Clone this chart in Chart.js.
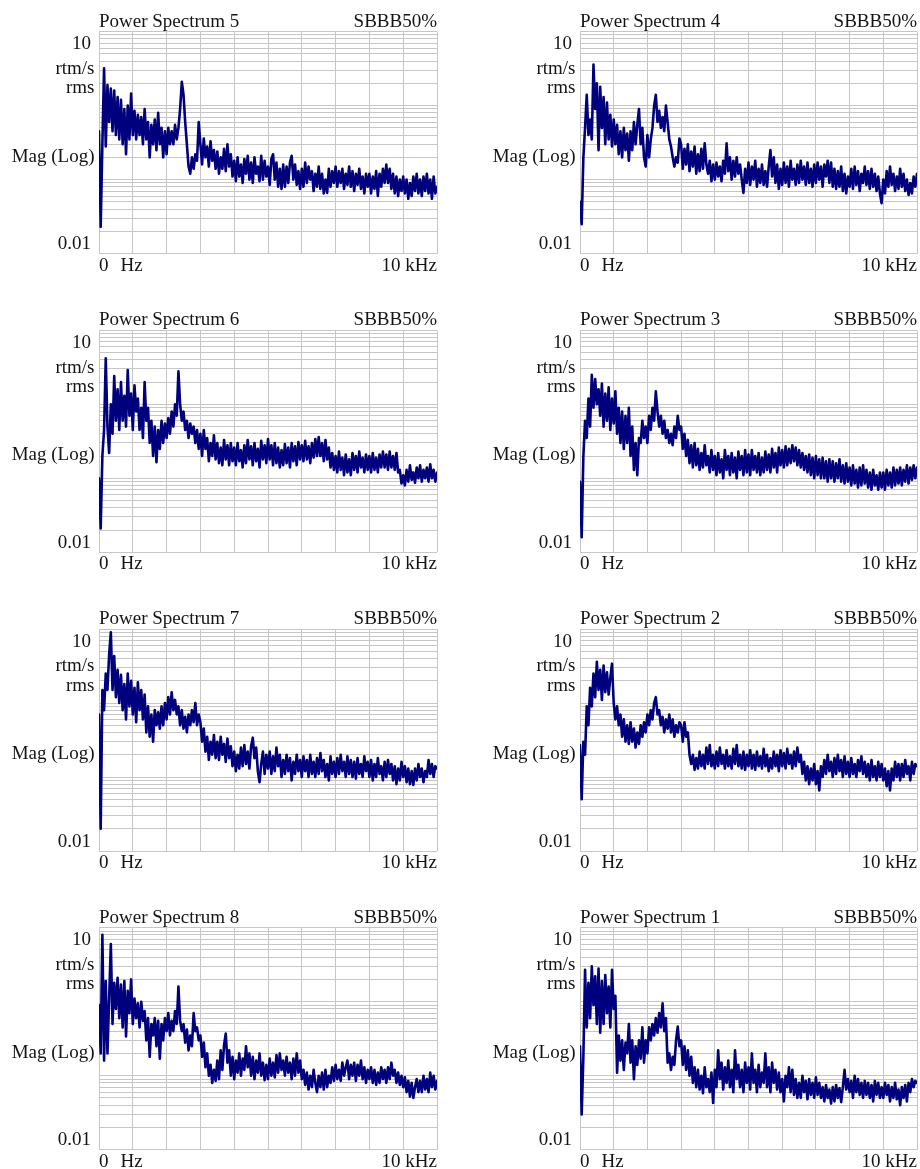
<!DOCTYPE html>
<html>
<head>
<meta charset="utf-8">
<script src="https://cdn.jsdelivr.net/npm/chart.js@4.4.1/dist/chart.umd.min.js"></script>
<style>
  html, body { margin: 0; padding: 0; background: #ffffff; overflow: hidden; }
  #sheet { position: relative; width: 920px; height: 1169px; overflow: hidden; background: #ffffff; }
  #sheet canvas { position: absolute; }
</style>
</head>
<body>
<div id="sheet"></div>
<script>
// Spectrum bins are 50 Hz apart, 0 Hz .. 10 kHz (201 bins per trace).
const binHz = 50;

// Frequency grid (Hz) and magnitude grid (rtm/s rms, log decades).
const freqTicks = [0, 1000, 2000, 3000, 4000, 5000, 6000, 7000, 8000, 9000, 10000];
const magDecades = [0.01, 0.1, 1];
const magSteps = [1, 2, 3, 4, 5, 6, 7, 8, 9];
const magTop = 10;

// Axis texts
const yAxisTexts = ['10', 'rtm/s', 'rms', 'Mag (Log)', '0.01'];
const xStartText = ['0', 'Hz'];
const xEndText = '10 kHz';
const windowText = 'SBBB50%';

// Magnitudes (rtm/s rms) per spectrum
const spectrum5 = [0.45,0.023,0.3,3.2,0.28,1.9,0.6,1.7,0.45,1.6,
 0.4,1.3,0.35,1.2,0.3,0.9,0.22,1.0,0.35,1.45,
 0.4,0.85,0.35,0.75,0.4,0.7,0.3,0.9,0.35,0.6,
 0.2,0.55,0.3,0.65,0.25,0.8,0.3,0.5,0.2,0.45,
 0.22,0.5,0.3,0.45,0.3,0.55,0.35,0.5,0.9,2.1,
 1.4,0.6,0.3,0.15,0.12,0.2,0.14,0.22,0.18,0.6,
 0.3,0.16,0.36,0.2,0.28,0.15,0.33,0.18,0.25,0.14,
 0.24,0.12,0.2,0.14,0.26,0.13,0.3,0.15,0.22,0.11,
 0.18,0.095,0.2,0.11,0.16,0.09,0.19,0.12,0.21,0.1,
 0.17,0.09,0.2,0.12,0.15,0.095,0.21,0.1,0.18,0.11,
 0.15,0.085,0.19,0.22,0.1,0.17,0.08,0.14,0.075,0.16,
 0.08,0.15,0.09,0.17,0.21,0.1,0.16,0.085,0.13,0.075,
 0.14,0.08,0.17,0.09,0.15,0.1,0.13,0.07,0.12,0.08,
 0.15,0.075,0.12,0.065,0.1,0.066,0.14,0.08,0.13,0.09,
 0.15,0.08,0.13,0.09,0.14,0.075,0.12,0.085,0.15,0.08,
 0.13,0.07,0.12,0.085,0.14,0.075,0.11,0.065,0.12,0.08,
 0.12,0.065,0.11,0.075,0.13,0.06,0.12,0.08,0.14,0.09,
 0.16,0.09,0.14,0.075,0.12,0.065,0.11,0.06,0.1,0.07,
 0.11,0.065,0.1,0.055,0.09,0.06,0.11,0.07,0.12,0.065,
 0.1,0.06,0.11,0.07,0.12,0.065,0.1,0.055,0.11,0.065,
 0.08];

const spectrum4 = [0.05,0.025,0.2,0.5,1.4,0.4,0.65,0.35,3.6,0.9,
 2.0,0.25,1.8,0.5,1.3,0.3,1.1,0.35,0.75,0.28,
 0.65,0.3,0.55,0.22,0.45,0.2,0.5,0.25,0.42,0.18,
 0.45,0.25,0.6,0.3,0.55,0.9,0.3,0.5,0.2,0.15,
 0.4,0.2,0.35,0.5,1.0,1.4,0.6,0.85,0.5,0.7,
 0.45,1.0,0.6,0.35,0.28,0.2,0.15,0.2,0.17,0.36,
 0.3,0.14,0.26,0.16,0.3,0.13,0.24,0.15,0.28,0.12,
 0.22,0.13,0.26,0.14,0.31,0.16,0.12,0.18,0.095,0.16,
 0.1,0.17,0.11,0.15,0.095,0.18,0.12,0.31,0.13,0.2,
 0.1,0.18,0.11,0.2,0.12,0.16,0.1,0.066,0.14,0.09,
 0.17,0.085,0.15,0.1,0.18,0.08,0.14,0.09,0.16,0.085,
 0.13,0.08,0.15,0.25,0.11,0.2,0.09,0.16,0.075,0.14,
 0.085,0.17,0.09,0.15,0.08,0.18,0.1,0.14,0.085,0.16,
 0.09,0.18,0.1,0.15,0.085,0.17,0.09,0.14,0.08,0.16,
 0.09,0.17,0.1,0.15,0.08,0.16,0.11,0.18,0.09,0.17,
 0.08,0.14,0.075,0.13,0.08,0.15,0.07,0.12,0.065,0.11,
 0.08,0.14,0.075,0.15,0.085,0.13,0.07,0.12,0.09,0.15,
 0.085,0.13,0.075,0.14,0.08,0.12,0.07,0.11,0.065,0.048,
 0.1,0.065,0.13,0.08,0.15,0.085,0.12,0.07,0.11,0.075,
 0.14,0.08,0.12,0.07,0.1,0.062,0.09,0.065,0.11,0.08,
 0.12];

const spectrum6 = [0.1,0.021,0.2,0.45,4.2,0.5,0.22,1.0,0.4,2.4,
 0.6,1.6,0.45,2.0,0.6,1.3,0.5,2.9,0.7,1.4,
 0.45,1.8,0.8,1.2,0.45,0.9,0.35,2.0,0.6,0.9,
 0.3,0.6,0.2,0.5,0.165,0.45,0.25,0.6,0.3,0.55,
 0.35,0.65,0.4,0.8,0.5,1.0,0.7,2.8,1.0,0.6,
 0.8,0.45,0.6,0.35,0.55,0.4,0.5,0.3,0.45,0.25,
 0.4,0.2,0.45,0.25,0.35,0.17,0.3,0.2,0.38,0.18,
 0.3,0.16,0.26,0.15,0.33,0.18,0.28,0.15,0.3,0.17,
 0.26,0.15,0.3,0.17,0.24,0.14,0.28,0.16,0.33,0.18,
 0.27,0.15,0.3,0.17,0.25,0.14,0.32,0.18,0.28,0.16,
 0.34,0.18,0.28,0.15,0.3,0.16,0.26,0.14,0.24,0.15,
 0.29,0.16,0.26,0.14,0.3,0.17,0.27,0.15,0.31,0.18,
 0.28,0.17,0.32,0.18,0.27,0.16,0.3,0.19,0.34,0.2,
 0.36,0.2,0.3,0.17,0.33,0.18,0.26,0.14,0.22,0.13,
 0.2,0.12,0.23,0.13,0.19,0.11,0.21,0.12,0.18,0.11,
 0.22,0.13,0.2,0.12,0.23,0.14,0.19,0.12,0.21,0.13,
 0.2,0.12,0.22,0.13,0.19,0.12,0.21,0.14,0.23,0.14,
 0.21,0.13,0.23,0.14,0.2,0.13,0.22,0.12,0.13,0.085,
 0.11,0.08,0.13,0.09,0.15,0.095,0.12,0.087,0.14,0.1,
 0.15,0.09,0.13,0.1,0.14,0.09,0.155,0.1,0.13,0.09,
 0.12];

const spectrum3 = [0.09,0.016,0.2,0.6,0.35,1.2,0.5,2.5,0.9,2.2,
 1.0,1.6,0.7,1.9,0.5,1.4,0.6,1.7,0.45,1.2,
 0.55,1.5,0.4,0.9,0.3,0.8,0.25,0.7,0.3,0.9,
 0.2,0.5,0.13,0.3,0.11,0.35,0.3,0.6,0.35,0.5,
 0.3,0.7,0.45,0.9,0.6,1.5,0.8,0.5,0.7,0.4,
 0.6,0.35,0.45,0.3,0.4,0.28,0.5,0.35,0.7,0.45,
 0.5,0.25,0.4,0.2,0.33,0.16,0.28,0.14,0.3,0.15,
 0.25,0.13,0.22,0.14,0.28,0.15,0.2,0.12,0.24,0.13,
 0.2,0.11,0.22,0.12,0.18,0.1,0.24,0.13,0.2,0.11,
 0.22,0.12,0.19,0.1,0.23,0.13,0.2,0.11,0.24,0.12,
 0.21,0.11,0.24,0.13,0.2,0.12,0.22,0.11,0.19,0.12,
 0.23,0.13,0.21,0.12,0.25,0.14,0.22,0.12,0.26,0.15,
 0.24,0.14,0.27,0.15,0.25,0.16,0.28,0.17,0.26,0.15,
 0.24,0.14,0.22,0.13,0.2,0.12,0.21,0.11,0.19,0.1,
 0.2,0.11,0.18,0.1,0.19,0.1,0.17,0.09,0.18,0.1,
 0.17,0.09,0.16,0.1,0.18,0.09,0.15,0.085,0.16,0.09,
 0.14,0.08,0.15,0.085,0.13,0.075,0.14,0.08,0.15,0.085,
 0.13,0.075,0.12,0.07,0.13,0.08,0.11,0.07,0.12,0.075,
 0.12,0.07,0.13,0.08,0.12,0.075,0.14,0.08,0.13,0.085,
 0.14,0.08,0.13,0.09,0.15,0.085,0.14,0.095,0.15,0.1,
 0.14];

const spectrum7 = [0.7,0.02,1.5,0.8,2.5,1.5,4.5,9.0,1.5,4.3,
 1.2,2.8,1.0,2.4,0.8,1.8,0.6,2.5,0.9,2.0,
 0.7,1.6,0.55,1.9,0.8,1.5,0.6,1.3,0.4,0.9,
 0.35,0.7,0.3,0.8,0.5,0.75,0.45,0.9,0.5,1.0,
 0.6,1.2,0.7,1.4,0.8,1.1,0.7,0.9,0.5,0.8,
 0.45,0.65,0.4,0.7,0.5,0.8,0.55,1.0,0.5,0.7,
 0.55,0.3,0.45,0.22,0.35,0.17,0.3,0.2,0.37,0.18,
 0.3,0.17,0.35,0.2,0.28,0.16,0.33,0.18,0.26,0.14,
 0.22,0.12,0.2,0.13,0.25,0.14,0.27,0.15,0.22,0.13,
 0.26,0.34,0.18,0.25,0.12,0.085,0.15,0.22,0.11,0.2,
 0.13,0.22,0.11,0.19,0.12,0.25,0.14,0.2,0.1,0.17,
 0.11,0.2,0.12,0.18,0.09,0.16,0.11,0.2,0.12,0.17,
 0.1,0.19,0.12,0.17,0.1,0.2,0.11,0.16,0.1,0.18,
 0.11,0.21,0.12,0.17,0.1,0.15,0.09,0.19,0.11,0.16,
 0.1,0.18,0.11,0.2,0.12,0.16,0.1,0.19,0.11,0.17,
 0.1,0.16,0.095,0.18,0.11,0.15,0.1,0.19,0.12,0.16,
 0.1,0.17,0.09,0.15,0.1,0.18,0.11,0.14,0.09,0.16,
 0.1,0.17,0.11,0.15,0.09,0.14,0.08,0.13,0.09,0.16,
 0.1,0.14,0.085,0.13,0.08,0.12,0.078,0.13,0.09,0.15,
 0.1,0.13,0.085,0.12,0.1,0.17,0.11,0.15,0.1,0.14,
 0.13];

const spectrum2 = [0.27,0.05,0.3,0.2,0.9,0.5,1.6,0.9,2.5,1.2,
 3.6,1.5,2.8,1.1,3.2,1.4,2.6,1.3,2.2,3.4,
 1.0,0.6,0.9,0.5,0.7,0.35,0.6,0.3,0.5,0.28,
 0.55,0.3,0.45,0.25,0.4,0.28,0.5,0.35,0.55,0.4,
 0.7,0.5,0.8,0.6,1.0,1.2,0.7,0.8,0.5,0.65,
 0.4,0.6,0.45,0.7,0.4,0.6,0.35,0.5,0.4,0.55,
 0.5,0.3,0.55,0.35,0.4,0.2,0.15,0.2,0.125,0.18,
 0.13,0.22,0.14,0.2,0.13,0.25,0.15,0.27,0.14,0.2,
 0.13,0.22,0.14,0.25,0.15,0.2,0.13,0.23,0.14,0.19,
 0.13,0.24,0.15,0.27,0.14,0.2,0.13,0.22,0.125,0.2,
 0.14,0.23,0.13,0.2,0.125,0.22,0.14,0.19,0.13,0.24,
 0.14,0.2,0.12,0.18,0.13,0.22,0.14,0.2,0.12,0.23,
 0.14,0.21,0.13,0.24,0.15,0.2,0.13,0.22,0.14,0.25,
 0.16,0.2,0.11,0.16,0.09,0.14,0.08,0.13,0.09,0.15,
 0.08,0.12,0.066,0.14,0.1,0.17,0.11,0.2,0.12,0.16,
 0.1,0.18,0.11,0.2,0.12,0.17,0.1,0.19,0.11,0.16,
 0.1,0.18,0.11,0.15,0.1,0.17,0.12,0.19,0.11,0.16,
 0.1,0.15,0.09,0.17,0.1,0.14,0.09,0.16,0.1,0.15,
 0.09,0.13,0.075,0.12,0.066,0.13,0.09,0.16,0.1,0.15,
 0.09,0.15,0.1,0.17,0.11,0.14,0.09,0.16,0.11,0.15,
 0.14];

const spectrum8 = [0.9,0.2,8.0,0.16,1.9,0.2,1.1,6.0,0.5,1.8,
 0.8,2.1,0.6,1.7,0.45,1.9,0.34,1.4,0.7,2.0,
 0.5,1.1,0.6,0.95,0.45,1.0,0.55,0.75,0.3,0.6,
 0.18,0.5,0.35,0.6,0.25,0.55,0.17,0.5,0.3,0.6,
 0.4,0.7,0.35,0.55,0.4,0.75,0.5,1.6,0.55,0.4,
 0.5,0.28,0.42,0.22,0.35,0.25,0.7,0.4,0.45,0.3,
 0.35,0.18,0.28,0.13,0.2,0.1,0.14,0.08,0.12,0.085,
 0.16,0.09,0.22,0.12,0.26,0.37,0.15,0.22,0.1,0.18,
 0.09,0.16,0.11,0.2,0.1,0.17,0.12,0.25,0.13,0.2,
 0.1,0.18,0.09,0.16,0.11,0.2,0.1,0.15,0.087,0.14,
 0.09,0.17,0.1,0.15,0.095,0.19,0.11,0.2,0.12,0.16,
 0.1,0.18,0.11,0.15,0.09,0.17,0.1,0.2,0.11,0.16,
 0.09,0.12,0.075,0.11,0.065,0.1,0.07,0.12,0.08,0.06,
 0.1,0.07,0.11,0.065,0.12,0.07,0.1,0.08,0.13,0.085,
 0.14,0.09,0.12,0.085,0.15,0.1,0.13,0.16,0.09,0.14,
 0.1,0.15,0.085,0.14,0.1,0.16,0.09,0.13,0.08,0.12,
 0.09,0.13,0.08,0.12,0.075,0.11,0.08,0.13,0.09,0.12,
 0.08,0.13,0.09,0.15,0.1,0.12,0.08,0.11,0.075,0.1,
 0.07,0.095,0.06,0.085,0.052,0.08,0.05,0.07,0.09,0.06,
 0.085,0.06,0.1,0.065,0.09,0.06,0.11,0.07,0.1,0.065,
 0.085];

const spectrum1 = [0.25,0.03,0.18,2.7,0.45,1.8,0.6,3.0,0.9,2.2,
 0.5,2.8,0.38,1.9,0.5,2.3,0.7,1.6,0.45,2.7,
 0.8,1.2,0.11,0.35,0.16,0.3,0.12,0.28,0.2,0.5,
 0.15,0.3,0.09,0.25,0.14,0.3,0.17,0.45,0.15,0.3,
 0.2,0.45,0.3,0.5,0.35,0.6,0.38,0.7,0.45,0.95,
 0.4,0.6,0.15,0.2,0.12,0.18,0.14,0.3,0.46,0.25,
 0.3,0.14,0.25,0.12,0.22,0.1,0.18,0.08,0.13,0.07,
 0.12,0.065,0.1,0.058,0.13,0.07,0.09,0.06,0.11,0.043,
 0.12,0.07,0.22,0.09,0.15,0.065,0.13,0.08,0.16,0.07,
 0.12,0.06,0.22,0.09,0.14,0.07,0.12,0.06,0.15,0.08,
 0.13,0.065,0.2,0.08,0.12,0.06,0.14,0.07,0.11,0.08,
 0.2,0.07,0.13,0.06,0.15,0.08,0.12,0.065,0.11,0.06,
 0.09,0.045,0.1,0.07,0.13,0.06,0.12,0.055,0.09,0.05,
 0.08,0.05,0.1,0.06,0.085,0.048,0.09,0.055,0.08,0.05,
 0.095,0.055,0.08,0.05,0.07,0.045,0.075,0.05,0.065,0.042,
 0.07,0.045,0.075,0.05,0.068,0.044,0.07,0.12,0.065,0.09,
 0.06,0.085,0.05,0.1,0.06,0.09,0.055,0.08,0.05,0.085,
 0.055,0.08,0.05,0.075,0.045,0.085,0.055,0.08,0.05,0.07,
 0.05,0.08,0.055,0.075,0.045,0.07,0.05,0.08,0.048,0.065,
 0.04,0.07,0.05,0.075,0.045,0.08,0.06,0.09,0.07,0.085,
 0.08];

// Sheet layout: 4 rows x 2 columns, numbered as in the acquisition report.
const panelNumbers = [5, 4, 6, 3, 7, 2, 8, 1];
const spectra = { 1: spectrum1, 2: spectrum2, 3: spectrum3, 4: spectrum4,
                  5: spectrum5, 6: spectrum6, 7: spectrum7, 8: spectrum8 };

const colPlotLeft = [99, 580];
const colPlotRight = [437, 917];
const rowPitch = 298.7;
const firstPlotTop = 31.6;
const plotHeight = 222;
const canvasW = 460, canvasH = 299;

const FONT = '19px "Liberation Serif", "Times New Roman", serif';
const INK = '#141414';
const TRACE = '#00007e';
const GRID = '#c6c6c6';

const magGrid = [];
magDecades.forEach(d => magSteps.forEach(s => magGrid.push(+(d * s).toPrecision(3))));
magGrid.push(magTop);

// Texts around each plot area: title, window, magnitude axis and frequency axis.
const panelText = {
  id: 'panelText',
  afterDraw(chart, args, opts) {
    const ctx = chart.ctx;
    const a = chart.chartArea;
    ctx.save();
    ctx.font = FONT;
    ctx.fillStyle = INK;
    ctx.textBaseline = 'alphabetic';

    ctx.textAlign = 'left';
    ctx.fillText(opts.title, a.left, a.top - 5);
    ctx.textAlign = 'right';
    ctx.fillText(windowText, a.right, a.top - 5);

    // magnitude axis captions
    ctx.fillText(yAxisTexts[0], a.left - 8, a.top + 17.7);
    ctx.fillText(yAxisTexts[1], a.left - 4.5, a.top + 42.4);
    ctx.fillText(yAxisTexts[2], a.left - 4.5, a.top + 61.7);
    ctx.fillText(yAxisTexts[3], a.left - 4.5, a.top + 130);
    ctx.fillText(yAxisTexts[4], a.left - 8, a.bottom - 4.3);

    // frequency axis captions
    ctx.textAlign = 'left';
    ctx.fillText(xStartText[0], a.left, a.bottom + 17);
    ctx.fillText(xStartText[1], a.left + 21.5, a.bottom + 17);
    ctx.textAlign = 'right';
    ctx.fillText(xEndText, a.right, a.bottom + 17);
    ctx.restore();
  }
};

const sheet = document.getElementById('sheet');

panelNumbers.forEach((num, k) => {
  const row = Math.floor(k / 2), col = k % 2;
  const canvasLeft = col * canvasW;
  const canvasTop = Math.round(row * rowPitch);
  const plotTop = firstPlotTop + row * rowPitch;

  const cv = document.createElement('canvas');
  cv.width = canvasW; cv.height = canvasH;
  cv.style.left = canvasLeft + 'px';
  cv.style.top = canvasTop + 'px';
  cv.style.width = canvasW + 'px';
  cv.style.height = canvasH + 'px';
  sheet.appendChild(cv);

  const values = spectra[num];
  const points = values.map((v, i) => ({ x: i * binHz, y: v }));

  const padTop = plotTop - canvasTop;
  new Chart(cv, {
    type: 'line',
    data: {
      datasets: [{
        data: points,
        borderColor: TRACE,
        borderWidth: 2.6,
        borderJoinStyle: 'round',
        borderCapStyle: 'round',
        pointRadius: 0,
        tension: 0,
        fill: false
      }]
    },
    options: {
      responsive: false,
      animation: false,
      devicePixelRatio: 1,
      parsing: false,
      normalized: true,
      events: [],
      layout: {
        autoPadding: false,
        padding: {
          left: colPlotLeft[col] - canvasLeft,
          right: canvasLeft + canvasW - colPlotRight[col],
          top: padTop,
          bottom: canvasH - padTop - plotHeight
        }
      },
      plugins: {
        legend: { display: false },
        tooltip: { enabled: false },
        title: { display: false },
        panelText: { title: 'Power Spectrum ' + num }
      },
      scales: {
        x: {
          type: 'linear',
          min: freqTicks[0],
          max: freqTicks[freqTicks.length - 1],
          afterBuildTicks: s => { s.ticks = freqTicks.map(v => ({ value: v })); },
          ticks: { display: false },
          grid: { color: GRID, lineWidth: 1, drawTicks: false, tickLength: 0 },
          border: { display: false }
        },
        y: {
          type: 'logarithmic',
          min: magDecades[0],
          max: magTop,
          afterBuildTicks: s => { s.ticks = magGrid.map(v => ({ value: v })); },
          ticks: { display: false },
          grid: { color: GRID, lineWidth: 1, drawTicks: false, tickLength: 0 },
          border: { display: false }
        }
      }
    },
    plugins: [panelText]
  });
});
</script>
</body>
</html>
